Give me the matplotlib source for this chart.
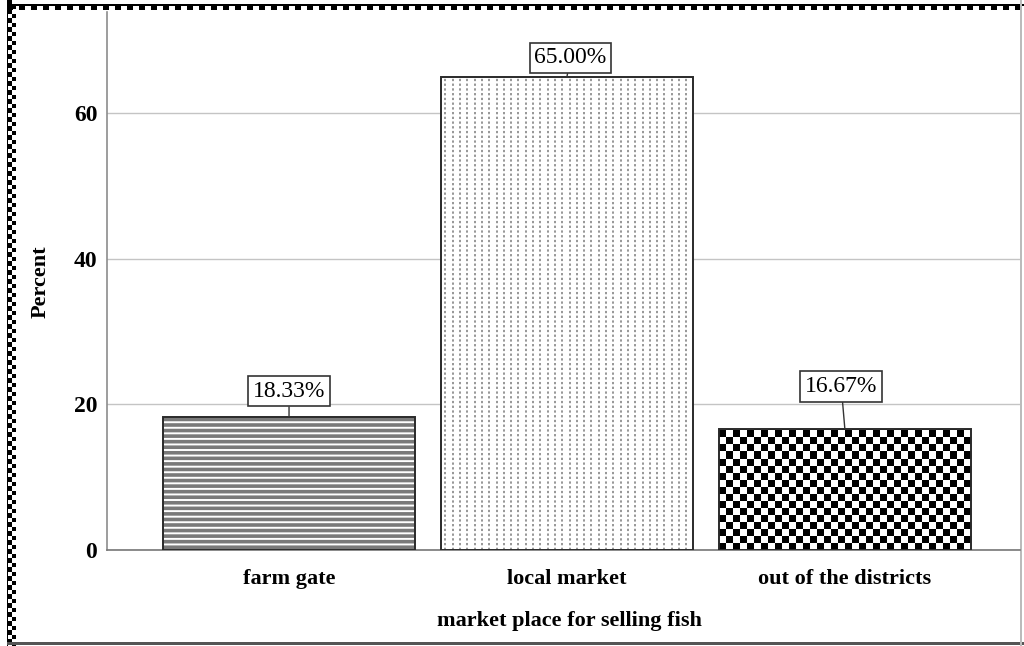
import matplotlib
matplotlib.use('Agg')
import matplotlib.pyplot as plt
import numpy as np
from matplotlib.patches import Rectangle

categories = ['farm gate', 'local market', 'out of the districts']
percents = [18.33, 65.00, 16.67]
label_texts = ['18.33%', '65.00%', '16.67%']
yticks = [0, 20, 40, 60]
x_title = 'market place for selling fish'
y_title = 'Percent'

plt.rcParams['font.family'] = ['Liberation Serif', 'DejaVu Serif']
plt.rcParams['hatch.linewidth'] = 2.6

W, H, DPI = 1024, 646, 100
fig = plt.figure(figsize=(W / DPI, H / DPI), dpi=DPI)

# ---- decorative frame (figure pixel coordinates) ----
bg = fig.add_axes([0, 0, 1, 1], zorder=-1)
bg.set_xlim(0, W)
bg.set_ylim(H, 0)
bg.axis('off')
cell = 4.5
nrows = int(H / cell) + 1
for j in range(nrows):
    for c in range(2):
        if (j + c) % 2 == 0:
            bg.add_patch(Rectangle((7 + c * cell, j * cell), cell, cell, color='black', lw=0))
bg.add_patch(Rectangle((7, 0), 1.2, H, color='black', lw=0))
bg.add_patch(Rectangle((7, 3.5), W - 7, 2.5, color='black', lw=0))
xx = 7
k = 0
while xx < W:
    if k % 2 == 0:
        bg.add_patch(Rectangle((xx, 6), 6, 4, color='black', lw=0))
    xx += 6
    k += 1
bg.add_patch(Rectangle((7, 642), W - 7, 2.5, color='#555555', lw=0))
bg.add_patch(Rectangle((1020, 0), 1.5, H, color='#bbbbbb', lw=0))

# ---- main axes ----
ax = fig.add_axes([0.1045, 0.1486, 0.8915, 0.8328])
ax.set_xlim(-0.655, 2.63)
ax.set_ylim(0, 73.9)
xpos = np.arange(len(categories))
bw = 0.906

hatched = ax.bar(xpos, percents, width=bw, color='white', edgecolor='#7a7a7a', linewidth=0, zorder=3)
hatched[0].set_hatch('---')

fig.canvas.draw()
px_per_x = ax.transData.transform((1, 0))[0] - ax.transData.transform((0, 0))[0]
px_per_y = ax.transData.transform((0, 1))[1] - ax.transData.transform((0, 0))[1]

# local market: vertical dotted lines
b1 = hatched[1]
x0, x1 = b1.get_x(), b1.get_x() + b1.get_width()
step = 7.3 / px_per_x
lxs = np.arange(x0 + step * 0.6, x1, step)
vl = ax.vlines(lxs, 0, percents[1], colors='#7a7a7a', linewidth=1.1,
               linestyles=(0, (1.5, 1.6)), zorder=3.5)
vl.set_clip_path(b1)

# out of the districts: checkerboard
b2 = hatched[2]
cx0, cx1 = b2.get_x(), b2.get_x() + b2.get_width()
ncols = int(round(b2.get_width() * px_per_x / 7.0))
nr = int(np.ceil(percents[2] * px_per_y / 7.0))
board = (np.add.outer(np.arange(nr), np.arange(ncols)) % 2).astype(float)
im = ax.imshow(board, cmap='gray', vmin=0, vmax=1, interpolation='nearest', aspect='auto',
               extent=(cx0, cx1, 0, nr * 7.0 / px_per_y), origin='lower', zorder=3.5)
im.set_clip_path(b2)
ax.set_xlim(-0.655, 2.63)
ax.set_ylim(0, 73.9)

# outlines
ax.bar(xpos, percents, width=bw, fill=False, edgecolor='#2a2a2a', linewidth=1.4, zorder=4)

# labels
offsets = [(0.0, 3.5), (0.013, 2.6), (-0.013, 5.8)]
for i, (v, t, (dx, dy)) in enumerate(zip(percents, label_texts, offsets)):
    ax.annotate(t, xy=(xpos[i], v), xytext=(xpos[i] + dx, v + dy), ha='center', va='center',
                fontsize=17, color='black',
                bbox=dict(boxstyle='square,pad=0.2', fc='white', ec='#333333', lw=1.2),
                arrowprops=dict(arrowstyle='-', color='#333333', lw=1.0, shrinkA=0, shrinkB=0),
                zorder=6)

ax.set_yticks(yticks)
ax.set_yticklabels([str(v) for v in yticks], fontsize=17, fontweight='bold')
ax.set_xticks(xpos)
ax.set_xticklabels(categories, fontsize=16, fontweight='bold')
ax.tick_params(axis='x', length=0, pad=14)
ax.tick_params(axis='y', length=0, pad=7)
ax.yaxis.grid(True, color='#c4c4c4', linewidth=1.0, zorder=0)
ax.set_axisbelow(True)
for s in ['top', 'right']:
    ax.spines[s].set_visible(False)
ax.spines['left'].set_color('#8c8c8c')
ax.spines['bottom'].set_color('#777777')
ax.spines['left'].set_linewidth(1.2)
ax.spines['bottom'].set_linewidth(1.2)
ax.set_xlabel(x_title, fontsize=16, fontweight='bold', va='center')
ax.xaxis.set_label_coords((569 - 107) / 913, -(621 - 550) / 538)
ax.set_ylabel(y_title, fontsize=16, fontweight='bold', va='center')
ax.yaxis.set_label_coords((41 - 107) / 913, (550 - 282) / 538)
ax.patch.set_alpha(0)

fig.savefig('out.png', dpi=DPI)
